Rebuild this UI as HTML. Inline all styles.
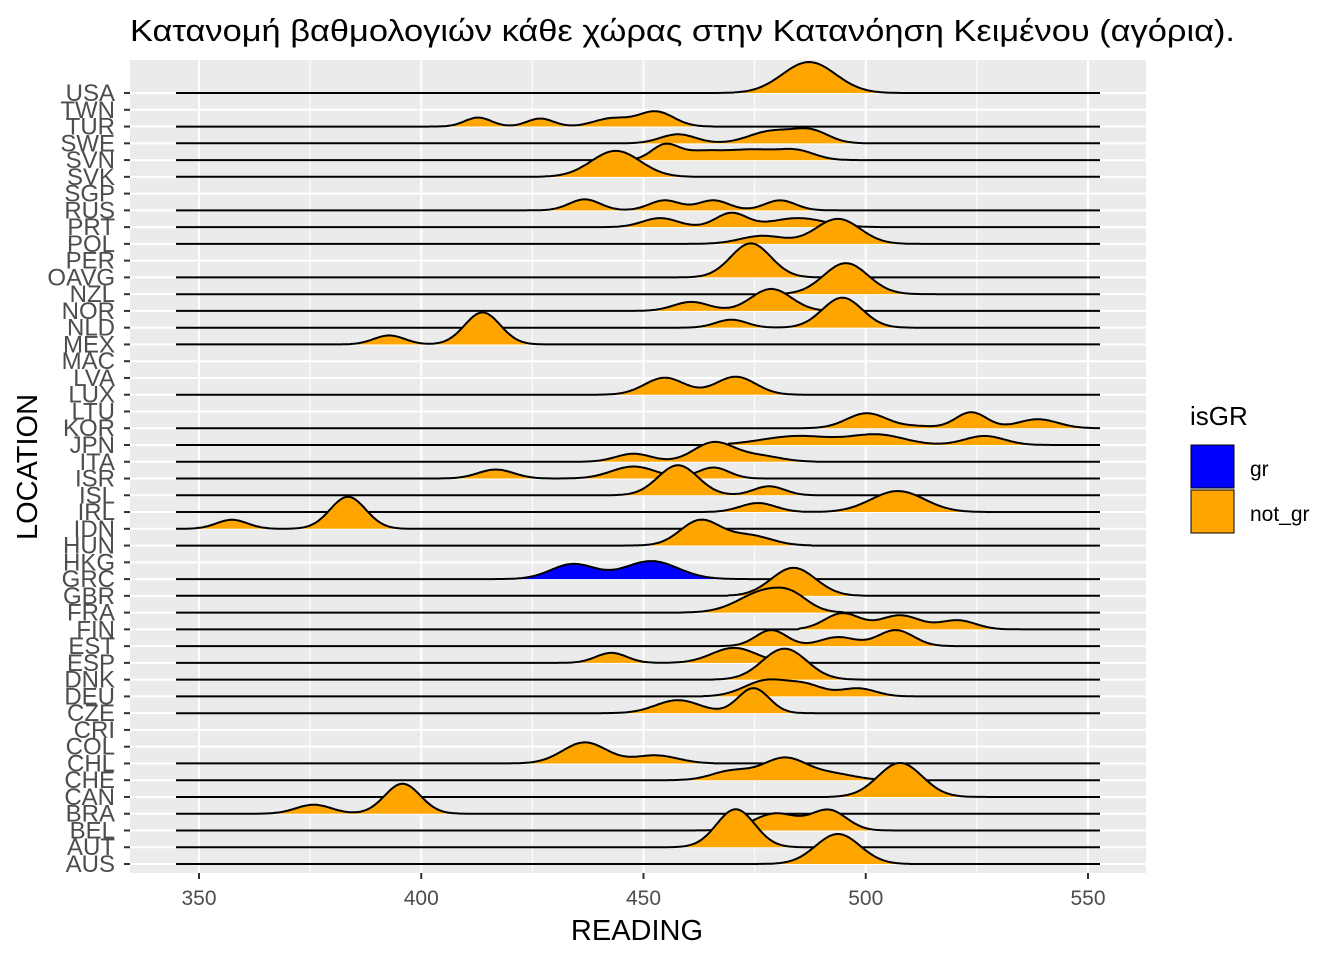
<!DOCTYPE html>
<html><head><meta charset="utf-8"><style>
html,body{margin:0;padding:0;background:#fff;}
svg{display:block;font-family:"Liberation Sans",Arial,sans-serif;}
</style></head><body>
<svg id="s" width="1344" height="960" viewBox="0 0 1344 960" xmlns="http://www.w3.org/2000/svg">
<rect x="0" y="0" width="1344" height="960" fill="#fff"/>
<rect x="130" y="60" width="1016" height="813" fill="#EBEBEB"/>
<g id="grid"></g>
<g id="ridges"></g>
<g id="axes"></g>
<text x="130" y="41" font-size="31" textLength="1105" lengthAdjust="spacingAndGlyphs" fill="#000">Κατανομή βαθμολογιών κάθε χώρας στην Κατανόηση Κειμένου (αγόρια).</text>
<text x="637" y="940" font-size="29" text-anchor="middle" fill="#000">READING</text>
<text transform="translate(37,467) rotate(-90)" font-size="29" text-anchor="middle" fill="#000">LOCATION</text>
<text x="1190" y="425" font-size="26" fill="#000">isGR</text>
<rect x="1191" y="445" width="43" height="43" fill="#0000FF" stroke="#000" stroke-width="1"/>
<rect x="1191" y="490" width="43" height="43" fill="#FFA500" stroke="#000" stroke-width="1"/>
<text x="1250" y="476" font-size="21" fill="#000">gr</text>
<text x="1250" y="521" font-size="21" fill="#000">not_gr</text>
</svg>
<script>
var NS="http://www.w3.org/2000/svg";
function el(p,t,a,txt){var e=document.createElementNS(NS,t);for(var k in a)e.setAttribute(k,a[k]);if(txt!==undefined)e.textContent=txt;p.appendChild(e);return e;}
function X(s){return 199+(s-350)*4.445;}
var labs=["AUS","AUT","BEL","BRA","CAN","CHE","CHL","COL","CRI","CZE","DEU","DNK","ESP","EST","FIN","FRA","GBR","GRC","HKG","HUN","IDN","IRL","ISL","ISR","ITA","JPN","KOR","LTU","LUX","LVA","MAC","MEX","NLD","NOR","NZL","OAVG","PER","POL","PRT","RUS","SGP","SVK","SVN","SWE","TUR","TWN","USA"];
function Y(i){return 864-i*16.76;}
var g=document.getElementById("grid"),ax=document.getElementById("axes"),rg=document.getElementById("ridges");
for(var s=325;s<=575;s+=50){var x=X(s);if(x>130&&x<1146)el(g,"line",{x1:x,x2:x,y1:60,y2:873,stroke:"#fff","stroke-width":1});}
for(var s=350;s<=550;s+=50){var x=X(s);el(g,"line",{x1:x,x2:x,y1:60,y2:873,stroke:"#fff","stroke-width":2});
 el(ax,"line",{x1:x,x2:x,y1:873,y2:879,stroke:"#333","stroke-width":2});
 el(ax,"text",{x:x,y:905,"font-size":21,"text-anchor":"middle",fill:"#4D4D4D"},String(s));}
for(var i=0;i<labs.length;i++){var y=Y(i);el(g,"line",{x1:130,x2:1146,y1:y,y2:y,stroke:"#fff","stroke-width":2});
 el(ax,"line",{x1:124,x2:130,y1:y,y2:y,stroke:"#333","stroke-width":2});
 el(ax,"text",{x:115,y:y+8,"font-size":24,"text-anchor":"end",fill:"#4D4D4D"},labs[i]);}
var R={
USA:[470,507,[[487.5,6,31]]],
TUR:[405,463,[[413,3,9],[427,3,8],[443,4,8],[453,4,15]]],
SWE:[447.6,500.5,[[458,4,9],[479,5,12],[488,4,12]]],
SVN:[447,496,[[455,3,14],[463,5,8],[475,6,10],[485,4,8]]],
SVK:[425.6,462,[[444,5.5,26]]],
RUS:[427,492,[[437,3.5,11],[455,3.5,10],[466,3.5,10],[481,3.5,10]]],
PRT:[443.6,501,[[454,4,9],[470,3.5,14],[485,6,9]]],
POL:[459,514,[[477,5,8],[494,5,25]]],
OAVG:[461,489,[[474.4,4.5,34]]],
NZL:[483,514,[[495.8,5,31]]],
NOR:[446.7,503.6,[[461,4,9],[479,4.5,22]]],
NLD:[461,508,[[470,3.5,8],[495,4.5,30]]],
MEX:[383,427,[[393,3.5,9],[414,4,32]]],
LUX:[443,484,[[455,4.5,17],[471,4.5,18]]],
KOR:[487,552.5,[[500.5,4.5,15],[512,4,2],[524,3.5,16],[539,4.5,9]]],
JPN:[472,541,[[485,8,9],[503,6,10],[527,4.5,9]]],
ITA:[439,486,[[448,4,8],[466,4.5,19],[476,5,6]]],
ISR:[407,475,[[417,4,9],[448,5,12],[466,3.5,11]]],
ISL:[443,489.5,[[458,4.5,30],[478.5,3.5,9]]],
IRL:[466.5,524,[[476,4,9],[507.5,6,21]]],
IDN:[345,395,[[357.6,3.5,9],[383.7,4,32]]],
HUN:[449,485,[[463,4.5,25],[474,5,10]]],
GRC:[418,473,[[434.4,5,15],[452,6,18]],"#0000FF"],
GBR:[472,504,[[484,5,28]]],
FRA:[461.8,492,[[478,6,22],[484,3.5,8]]],
FIN:[488,532,[[495,4,16],[508,4.5,14],[521,4,9]]],
EST:[469.7,525.7,[[479,3.5,16],[494,4,9],[507,4,16]]],
ESP:[433.5,494,[[443,3.5,10],[470.6,5,15]]],
DNK:[469,500,[[482,5,31]]],
DEU:[466.5,510,[[478,5,16],[487,4,10],[498.5,4,8]]],
CZE:[443.6,488.6,[[458,5,13],[475,3.5,25]]],
CHL:[418,463,[[437,5,21],[453,5,8]]],
CHE:[456,500,[[470,4.5,9],[482,5,22],[493,5,6]]],
CAN:[495,524,[[508,5,34]]],
BRA:[365.5,409.6,[[376,4,9],[396,4,30]]],
BEL:[463,505,[[480,5,17],[492,4,20]]],
AUT:[454.6,484,[[471,4.3,38]]],
AUS:[478.5,507,[[494,5,30]]]
};
for(var i=labs.length-1;i>=0;i--){var r=R[labs[i]];if(!r)continue;var y0=Y(i);
 var lo=r[0]-3,hi=r[1]+3;
 var pts=[];for(var s=345;s<=553.01;s+=0.4){var d=0;if(s>=lo&&s<=hi){for(var c=0;c<r[2].length;c++){var m=r[2][c];d+=m[2]*Math.exp(-0.5*Math.pow((s-m[0])/m[1],2));}}
  var x=176+(s-345)*(1100-176)/208;pts.push(x.toFixed(1)+","+(y0-d).toFixed(1));}
 el(rg,"path",{d:"M176,"+y0+" L"+pts.join(" L")+" L1100,"+y0+" Z",fill:r[3]||"#FFA500",stroke:"none"});
 el(rg,"path",{d:"M"+pts.join(" L"),fill:"none",stroke:"#000","stroke-width":2});
}
</script>
</body></html>
